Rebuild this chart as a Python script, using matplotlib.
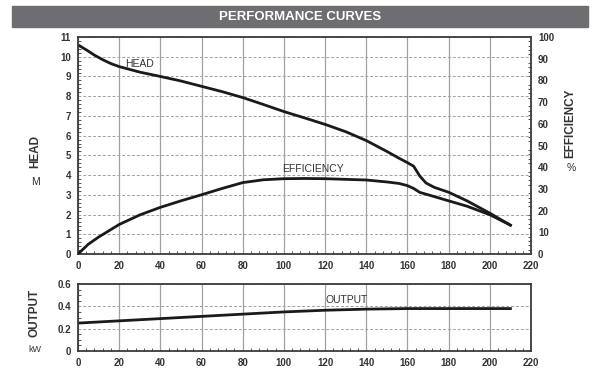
import matplotlib.pyplot as plt
from matplotlib.patches import Rectangle
from matplotlib.ticker import MultipleLocator, FuncFormatter

plt.rcParams['font.family'] = ['Liberation Sans', 'DejaVu Sans']

# flow values (x axis) and curves
head_flow = [0, 4, 8, 12, 16, 20, 30, 40, 50, 60, 70, 80, 90, 100, 110, 120, 130, 140, 150, 156, 160, 163, 166, 169, 173, 180, 189, 200, 210]
head_m = [10.6, 10.35, 10.08, 9.85, 9.65, 9.5, 9.22, 9.0, 8.77, 8.5, 8.23, 7.93, 7.58, 7.22, 6.9, 6.57, 6.2, 5.75, 5.2, 4.85, 4.63, 4.45, 3.95, 3.6, 3.38, 3.13, 2.69, 2.07, 1.46]

eff_flow = [0, 5, 10, 20, 30, 40, 50, 60, 70, 80, 90, 100, 110, 120, 130, 140, 150, 156, 160, 163, 166, 170, 180, 189, 200, 210]
eff_pct = [0, 4.5, 7.8, 13.6, 18.0, 21.5, 24.5, 27.3, 30.2, 32.9, 34.2, 34.7, 34.8, 34.7, 34.4, 34.1, 33.2, 32.5, 31.5, 30.2, 28.4, 27.3, 24.5, 22.0, 18.1, 13.3]

out_flow = [0, 20, 40, 60, 80, 100, 120, 140, 160, 180, 210]
out_kw = [0.25, 0.27, 0.29, 0.31, 0.33, 0.35, 0.365, 0.375, 0.38, 0.38, 0.38]

grid_c = '#a0a0a0'
frame_c = '#3a3a3a'

fig = plt.figure(figsize=(6, 3.71), dpi=100)

# title banner
fig.patches.append(Rectangle((12 / 600, 1 - 27 / 371), 576 / 600, 21 / 371,
                             transform=fig.transFigure, color='#6d6e71', zorder=0))
fig.text(0.5, 1 - 16.5 / 371, 'PERFORMANCE CURVES', color='white', fontsize=9.5,
         fontweight='bold', ha='center', va='center')

ax = fig.add_axes([78 / 600, 1 - 254 / 371, 453 / 600, 217 / 371])
ax2 = ax.twinx()
axo = fig.add_axes([78 / 600, 1 - 351 / 371, 453 / 600, 67 / 371])


def ticks(a, which_axis='both'):
    a.tick_params(which='both', direction='in', colors=frame_c, labelcolor='#333333')
    a.tick_params(which='major', length=0, pad=5)
    a.tick_params(which='minor', length=2, width=0.6)
    labs = []
    if which_axis in ('both', 'x'):
        labs += a.get_xticklabels()
    if which_axis in ('both', 'y'):
        labs += a.get_yticklabels()
    for lab in labs:
        lab.set_fontsize(7)
        lab.set_fontweight('bold')


def style(a, ymax, ystep, yminor):
    a.set_xlim(0, 220)
    a.set_ylim(0, ymax)
    a.xaxis.set_major_locator(MultipleLocator(20))
    a.xaxis.set_minor_locator(MultipleLocator(4))
    a.yaxis.set_major_locator(MultipleLocator(ystep))
    a.yaxis.set_minor_locator(MultipleLocator(yminor))
    ticks(a)
    for s in a.spines.values():
        s.set_color(frame_c)
        s.set_linewidth(1.3)
    a.grid(True, axis='x', color=grid_c, linewidth=0.9, linestyle='-')
    a.grid(True, axis='y', color=grid_c, linewidth=0.7, linestyle=(0, (3, 2)))
    a.set_axisbelow(True)


style(ax, 11, 1, 0.2)
axo.yaxis.set_major_formatter(FuncFormatter(lambda v, p: '0' if abs(v) < 1e-9 else f'{v:.1f}'))
style(axo, 0.6, 0.2, 0.05)
ax2.set_ylim(0, 100)
ax2.yaxis.set_major_locator(MultipleLocator(10))
ax2.yaxis.set_minor_locator(MultipleLocator(2))
ticks(ax2, 'y')
for s in ax2.spines.values():
    s.set_visible(False)

ax.plot(head_flow, head_m, color='#1a1a1a', linewidth=2)
ax2.plot(eff_flow, eff_pct, color='#1a1a1a', linewidth=2)
axo.plot(out_flow, out_kw, color='#1a1a1a', linewidth=2)

ax.text(23, 9.65, 'HEAD', fontsize=7.5, color='#333333', va='center')
ax.text(99, 4.3, 'EFFICIENCY', fontsize=7.5, color='#333333', va='center')
axo.text(120, 0.46, 'OUTPUT', fontsize=7.5, color='#333333', va='center')

# axis titles
fig.text(35 / 600, 1 - 152 / 371, 'HEAD', rotation=90, fontsize=8.5, fontweight='bold',
         color='#333333', ha='center', va='center')
fig.text(35 / 600, 1 - 182 / 371, 'M', fontsize=7.5, color='#333333', ha='center', va='center')
fig.text(570 / 600, 1 - 123 / 371, 'EFFICIENCY', rotation=90, fontsize=8.5, fontweight='bold',
         color='#333333', ha='center', va='center')
fig.text(571 / 600, 1 - 168 / 371, '%', fontsize=7.5, color='#333333', ha='center', va='center')
fig.text(35 / 600, 1 - 313 / 371, 'OUTPUT', rotation=90, fontsize=8.5, fontweight='bold',
         color='#333333', ha='center', va='center')
fig.text(35 / 600, 1 - 350 / 371, 'kW', fontsize=6.5, color='#333333', ha='center', va='center')

fig.savefig('out.png', dpi=100)
